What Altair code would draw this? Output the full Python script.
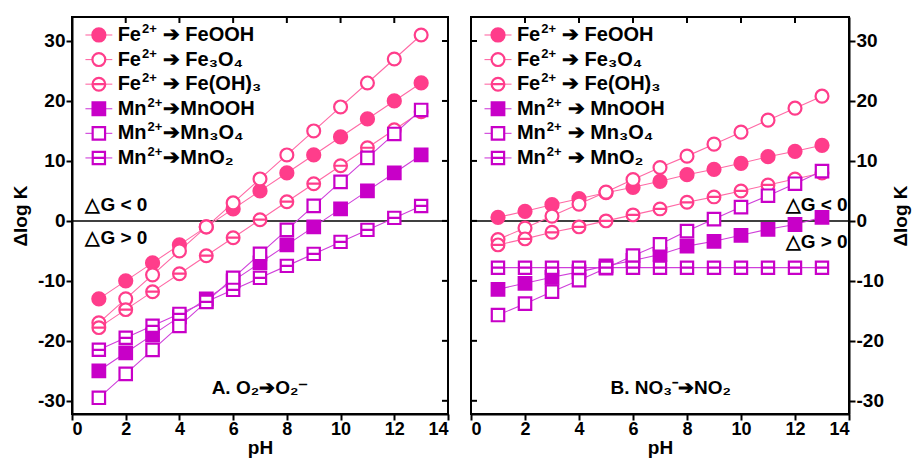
import altair as alt
import pandas as pd

# ---------------- data ----------------
PH = [1, 2, 3, 4, 5, 6, 7, 8, 9, 10, 11, 12, 13]
SERIES = ["FeOOH", "Fe3O4", "FeOH3", "MnOOH", "Mn3O4", "MnO2"]

A_FeOOH = [-13, -10, -7, -4, -1, 2, 5, 8, 11, 14, 17, 20, 23]
A_Fe3O4 = [-17, -13, -9, -5, -1, 3, 7, 11, 15, 19, 23, 27, 31]
A_FeOH3 = [-17.8, -14.8, -11.8, -8.8, -5.8, -2.8, 0.2, 3.2, 6.2, 9.2, 12.2, 15.2, 18.2]
A_MnOOH = [-25, -22, -19, -16, -13, -10, -7, -4, -1, 2, 5, 8, 11]
A_Mn3O4 = [-29.5, -25.5, -21.5, -17.5, -13.5, -9.5, -5.5, -1.5, 2.5, 6.5, 10.5, 14.5, 18.5]
A_MnO2 = [-21.5, -19.5, -17.5, -15.5, -13.5, -11.5, -9.5, -7.5, -5.5, -3.5, -1.5, 0.5, 2.5]

B_FeOOH = [0.6, 1.6, 2.7, 3.7, 4.7, 5.6, 6.6, 7.7, 8.6, 9.6, 10.7, 11.6, 12.6]
B_Fe3O4 = [-3.1, -1.2, 0.8, 2.8, 4.8, 6.9, 8.9, 10.8, 12.8, 14.8, 16.8, 18.8, 20.8]
B_FeOH3 = [-4, -3, -1.9, -1, 0, 1, 2, 3.1, 4, 5, 6, 7, 8]
B_MnOOH = [-11.4, -10.4, -9.4, -8.5, -7.5, -6.6, -5.6, -4.2, -3.4, -2.4, -1.4, -0.6, 0.6]
B_Mn3O4 = [-15.7, -13.8, -11.8, -9.9, -7.9, -5.8, -3.9, -1.7, 0.3, 2.3, 4.2, 6.2, 8.3]
B_MnO2 = [-7.8, -7.8, -7.8, -7.8, -7.8, -7.8, -7.8, -7.8, -7.8, -7.8, -7.8, -7.8, -7.8]

ION = ["Fe", "Fe", "Fe", "Mn", "Mn", "Mn"]
SUP = "2+"
REST_A = ["➔ FeOOH", "➔ Fe₃O₄", "➔ Fe(OH)₃", "➔MnOOH", "➔Mn₃O₄", "➔MnO₂"]
REST_B = ["➔ FeOOH", "➔ Fe₃O₄", "➔ Fe(OH)₃", "➔ MnOOH", "➔ Mn₃O₄", "➔ MnO₂"]

X_TICKS = [0, 2, 4, 6, 8, 10, 12, 14]
Y_TICKS = [-30, -20, -10, 0, 10, 20, 30]

# ---------------- styles ----------------
FE = "#FF3D8B"
MN = "#C800C8"
FE_LINE = "#FF69A5"
MN_LINE = "#CF3FDA"
MARK_COLORS = [FE, FE, FE, MN, MN, MN]
LINE_COLORS = [FE_LINE, FE_LINE, FE_LINE, MN_LINE, MN_LINE, MN_LINE]
FILLS = [FE, "white", "white", MN, "white", "white"]
SHAPES = ["circle", "circle", "M-1,0A1,1,0,1,1,1,0A1,1,0,1,1,-1,0ZM-1,0L1,0",
          "square", "square", "M-1,-1L1,-1L1,1L-1,1ZM-1,0L1,0"]
SIZES = [170, 150, 150, 150, 125, 125]
GAP_A = [7, 7, 7, 2, 2, 2]      # px gap between superscript and arrow
GAP_B = [7, 7, 7, 7, 7, 7]

FONT = "Liberation Sans"
LEG_FS = 20
SUP_FS = 13
W_A, W_B, H = 376, 378, 397
XDOM = [0, 14]
YDOM = [-32.2, 34]

# approximate Arial-Bold advance widths (em) for placing superscripts
ADV = {"F": 0.611, "e": 0.556, "M": 0.833, "n": 0.611, "2": 0.556, "+": 0.584}


def tw(s, fs):
    return sum(ADV[c] for c in s) * fs


def long_df(lists):
    rows = []
    for s, vals in zip(SERIES, lists):
        for p, v in zip(PH, vals):
            rows.append({"pH": p, "v": v, "s": s})
    return pd.DataFrame(rows)


ONE = pd.DataFrame({"k": [0]})


def panel(lists, rest, gaps, width, side, ann_lt, ann_gt, ann_title, ann_pos):
    df = long_df(lists)
    ppu = width / 14.0
    xs = alt.Scale(domain=XDOM, nice=False)
    ys = alt.Scale(domain=YDOM, nice=False)
    xax = alt.Axis(values=X_TICKS, title="pH", tickSize=6, labelPadding=0, titlePadding=0,
                   labelFontSize=18, labelExpr="'' + datum.value")
    yax = alt.Axis(values=Y_TICKS, title="Δlog K", orient=side, tickSize=6,
                   labelPadding=1, titlePadding=7 if side == "left" else 27, titleAngle=270,
                   labelExpr="'' + datum.value")
    X = lambda f: alt.X(f, scale=xs, axis=xax)
    Y = lambda f: alt.Y(f, scale=ys, axis=yax)

    lines = alt.Chart(df).mark_line(strokeWidth=1.1).encode(
        x=X("pH:Q"), y=Y("v:Q"),
        color=alt.Color("s:N", scale=alt.Scale(domain=SERIES, range=LINE_COLORS), legend=None),
        detail="s:N",
    )
    enc_pts = dict(
        stroke=alt.Stroke("s:N", scale=alt.Scale(domain=SERIES, range=MARK_COLORS), legend=None),
        fill=alt.Fill("s:N", scale=alt.Scale(domain=SERIES, range=FILLS), legend=None),
        shape=alt.Shape("s:N", scale=alt.Scale(domain=SERIES, range=SHAPES), legend=None),
        size=alt.Size("s:N", scale=alt.Scale(domain=SERIES, range=SIZES), legend=None),
    )
    pts = alt.Chart(df).mark_point(opacity=1, strokeWidth=2.2, fillOpacity=1).encode(
        x=X("pH:Q"), y=Y("v:Q"), **enc_pts)
    zero = alt.Chart(ONE).mark_rule(color="black", strokeWidth=1.5).encode(
        y=alt.YDatum(0, scale=ys, axis=yax))

    tx = pd.DataFrame({"t": X_TICKS})
    ty = pd.DataFrame({"t": Y_TICKS})
    top_ticks = alt.Chart(tx).mark_rule(color="black", strokeWidth=2).encode(
        x=X("t:Q"), y=alt.value(0), y2=alt.value(6))
    if side == "left":
        side_ticks = alt.Chart(ty).mark_rule(color="black", strokeWidth=2).encode(
            y=Y("t:Q"), x=alt.value(width - 6), x2=alt.value(width))
    else:
        side_ticks = alt.Chart(ty).mark_rule(color="black", strokeWidth=2).encode(
            y=Y("t:Q"), x=alt.value(0), x2=alt.value(6))

    # legend drawn inside the plot
    x_txt = 1.7
    leg = pd.DataFrame({"s": SERIES, "ion": ION, "rest": rest, "row": list(range(6))})
    leg["ly"] = 31 - 4.1 * leg["row"]
    leg["sup"] = SUP
    leg["xs"] = [x_txt + (tw(i, LEG_FS) + 1) / ppu for i in ION]
    leg["xr"] = [x_txt + (tw(i, LEG_FS) + tw(SUP, SUP_FS) + g) / ppu for i, g in zip(ION, gaps)]
    base = alt.Chart(leg)
    lg_line = base.mark_rule(strokeWidth=1.1).encode(
        y=Y("ly:Q"), x=alt.XDatum(0.5, scale=xs, axis=xax), x2=alt.X2Datum(1.5),
        color=alt.Color("s:N", scale=alt.Scale(domain=SERIES, range=LINE_COLORS), legend=None),
    )
    lg_pt = base.mark_point(opacity=1, strokeWidth=2.2, fillOpacity=1).encode(
        y=Y("ly:Q"), x=alt.XDatum(1.0, scale=xs, axis=xax), **enc_pts)
    tstyle = dict(baseline="middle", font=FONT, fontWeight="bold", color="black")
    lg_ion = base.mark_text(align="left", fontSize=LEG_FS, **tstyle).encode(
        y=Y("ly:Q"), x=alt.XDatum(x_txt, scale=xs, axis=xax), text="ion:N")
    lg_sup = base.mark_text(align="left", fontSize=SUP_FS, dy=-6, **tstyle).encode(
        y=Y("ly:Q"), x=X("xs:Q"), text="sup:N")
    lg_rest = base.mark_text(align="left", fontSize=LEG_FS, **tstyle).encode(
        y=Y("ly:Q"), x=X("xr:Q"), text="rest:N")

    ann = []
    align = "left" if side == "left" else "right"
    ax = 0.5 if side == "left" else 13.95
    for txt, yv in [("△G < 0", ann_lt), ("△G > 0", ann_gt)]:
        ann.append(alt.Chart(ONE).mark_text(
            align=align, fontSize=19, text=txt, **tstyle).encode(
            x=alt.XDatum(ax, scale=xs, axis=xax), y=alt.YDatum(yv, scale=ys, axis=yax)))
    ann.append(alt.Chart(ONE).mark_text(
        align="center", fontSize=19, text=ann_title, **tstyle).encode(
        x=alt.XDatum(ann_pos, scale=xs, axis=xax), y=alt.YDatum(-27.8, scale=ys, axis=yax)))

    return alt.layer(zero, lines, pts, top_ticks, side_ticks, lg_line, lg_pt,
                     lg_ion, lg_sup, lg_rest, *ann).properties(width=width, height=H)


pA = panel([A_FeOOH, A_Fe3O4, A_FeOH3, A_MnOOH, A_Mn3O4, A_MnO2], REST_A, GAP_A, W_A, "left",
           2.7, -2.8, "A. O₂➔O₂⁻", 7.0)
pB = panel([B_FeOOH, B_Fe3O4, B_FeOH3, B_MnOOH, B_Mn3O4, B_MnO2], REST_B, GAP_B, W_B, "right",
           2.7, -3.5, "B. NO₃⁻➔NO₂", 7.4)

chart = alt.hconcat(pA, pB, spacing=23, bounds="flush").properties(
    padding={"left": 10, "top": 15, "right": 0, "bottom": 0},
    background="white",
).configure_view(
    stroke="black", strokeWidth=2
).configure_axis(
    grid=False, domainColor="black", domainWidth=2, tickColor="black", tickWidth=2,
    labelFont=FONT, labelFontSize=19, labelFontWeight="bold", labelColor="black",
    titleFont=FONT, titleFontSize=19, titleFontWeight="bold", titleColor="black",
)

chart.save("out.html", embed_options={"renderer": "svg", "actions": False})
